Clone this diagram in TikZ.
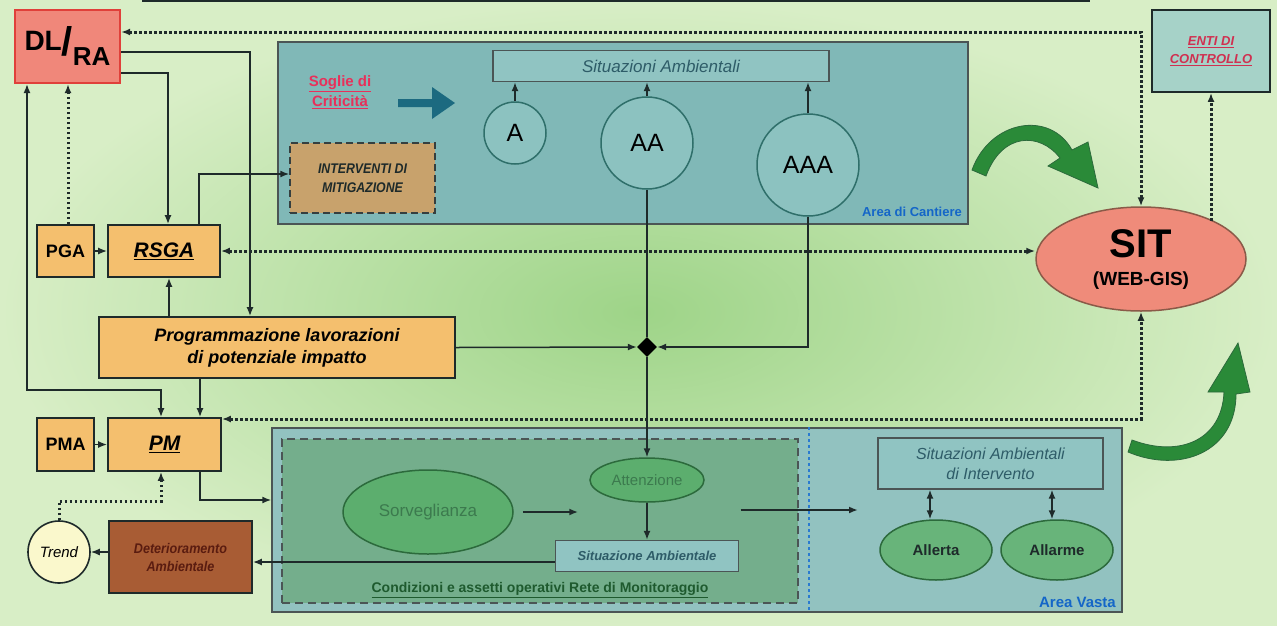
\documentclass[tikz,border=0pt]{standalone}
\usepackage{fontspec}
\setmainfont{Liberation Sans}
\usetikzlibrary{arrows.meta,shapes.geometric,calc}
\definecolor{bgin}{HTML}{9ED488}
\definecolor{bgout}{HTML}{D8EEC6}
\definecolor{redfill}{HTML}{F0877A}
\definecolor{redline}{HTML}{E0403A}
\definecolor{orangefill}{HTML}{F4BF6E}
\definecolor{tealfill}{HTML}{80B8B7}
\definecolor{tealbox}{HTML}{90C4C2}
\definecolor{circfill}{HTML}{8CC2C0}
\definecolor{circline}{HTML}{2F6F6A}
\definecolor{intfill}{HTML}{C8A26C}
\definecolor{entifill}{HTML}{A6D2C8}
\definecolor{detfill}{HTML}{A85C34}
\definecolor{dettext}{HTML}{5A1C10}
\definecolor{trendfill}{HTML}{FAF8CC}
\definecolor{lowfill}{HTML}{92C2C0}
\definecolor{innerfill}{HTML}{74AE8C}
\definecolor{ellfill}{HTML}{5CAE6E}
\definecolor{ellline}{HTML}{2C6A3C}
\definecolor{ellfill2}{HTML}{68B47A}
\definecolor{linec}{HTML}{1E2A2A}
\definecolor{arrgreen}{HTML}{2A8A38}
\definecolor{arrblue}{HTML}{1C6A80}
\definecolor{soglie}{HTML}{E8305A}
\definecolor{areablue}{HTML}{1466C8}
\definecolor{sitfill}{HTML}{EF8B7A}
\definecolor{sitline}{HTML}{8A5A48}
\definecolor{textgreen}{HTML}{3C7A4E}
\definecolor{condtext}{HTML}{1E5A2E}
\definecolor{sittext}{HTML}{2E5C68}
\definecolor{entitext}{HTML}{D03050}
\definecolor{sepblue}{HTML}{2A7AD0}
\newcommand{\fsz}[2]{\fontsize{#1}{#2}\selectfont}
\begin{document}
\begin{tikzpicture}[x=1pt,y=-1pt,
  >={Latex[length=9pt,width=7pt]},
  box/.style={draw=linec, line width=1.8pt, inner sep=0pt, align=center},
  obox/.style={box, fill=orangefill},
  conn/.style={draw=linec, line width=1.5pt},
  dotc/.style={draw=linec, line width=3pt, dash pattern=on 2.6pt off 2.4pt},
  circ/.style={circle, draw=circline, line width=1.5pt, fill=circfill, inner sep=0pt},
  gell/.style={ellipse, draw=ellline, line width=1.5pt, fill=ellfill, inner sep=0pt},
  garrow/.style={fill=arrgreen, draw=ellline, line width=0.8pt}
]
\useasboundingbox (0,0) rectangle (1277,625);
\shade[inner color=bgin, outer color=bgout] (0,0) rectangle (1277,625);
\draw[linec, line width=2pt] (142,1) -- (1090,1);

% ---------- containers ----------
\node[box, draw=linec!80, line width=1.5pt, fill=tealfill, minimum width=690, minimum height=182] (cantiere) at (623,133) {};
\node[box, draw=linec!80, line width=1.5pt, fill=lowfill, minimum width=850, minimum height=184] (lower) at (697,520) {};
\node[box, draw=linec!80, line width=1.3pt, dash pattern=on 8pt off 5pt, fill=innerfill, minimum width=516, minimum height=164] (inner) at (540,521) {};
\draw[sepblue, line width=1.5pt, dash pattern=on 3pt off 3pt] (lower.north -| 809,0) -- (lower.south -| 809,0);

% ---------- left column ----------
\node[box, fill=redfill, draw=redline, line width=2.2pt, minimum width=105, minimum height=73] (dlra) at (67.5,46.5)
  {\bfseries\fsz{28}{28}DL\raisebox{-5pt}{\fsz{40}{40}/}\raisebox{-15pt}{\fsz{26}{26}RA}};
\node[obox, minimum width=57, minimum height=52, font=\bfseries\fsz{18}{18}] (pga) at (65.5,251) {PGA};
\node[obox, minimum width=112, minimum height=52, font=\bfseries\itshape\fsz{21}{21}] (rsga) at (164,251) {\underline{RSGA}};
\node[obox, minimum width=356, minimum height=61, font=\bfseries\itshape\fsz{18}{22}] (prog) at (277,347.5)
  {Programmazione lavorazioni\\di potenziale impatto};
\node[obox, minimum width=57, minimum height=53, font=\bfseries\fsz{18}{18}] (pma) at (65.5,444.5) {PMA};
\node[obox, minimum width=113, minimum height=53, font=\bfseries\itshape\fsz{21}{21}] (pm) at (164.5,444.5) {\underline{PM}};
\node[circle, draw=linec, line width=1.6pt, fill=trendfill, minimum size=62, inner sep=0pt, font=\itshape\fsz{15}{15}] (trend) at (59,552) {Trend};
\node[box, fill=detfill, minimum width=143, minimum height=72, font=\bfseries\itshape\fsz{14}{18}, text=dettext] (deter) at (180.5,557)
  {\scalebox{0.9}[1]{Deterioramento}\\\scalebox{0.9}[1]{Ambientale}};

% ---------- Area di Cantiere ----------
\node[box, draw=linec!80, line width=1.4pt, fill=tealbox, minimum width=336, minimum height=31, font=\itshape\fsz{17}{17}, text=sittext] (sitamb) at (661,66)
  {Situazioni Ambientali};
\node[circ, minimum size=62, font=\fsz{25}{25}] (A) at (515,133) {A};
\node[circ, minimum size=92, font=\fsz{25}{25}] (AA) at (647,143) {AA};
\node[circ, minimum size=102, font=\fsz{25}{25}] (AAA) at (808,165) {AAA};
\node[align=center, text=soglie, inner sep=0pt, font=\bfseries\fsz{15}{20}] (soglie) at (340,92)
  {\underline{Soglie di}\\\underline{Criticità}};
\node[box, draw=linec!90, line width=1.5pt, dash pattern=on 7pt off 4pt, fill=intfill, minimum width=145, minimum height=70, font=\bfseries\itshape\fsz{14}{19}, text=linec] (interv) at (362.5,178)
  {\scalebox{0.88}[1]{INTERVENTI DI}\\\scalebox{0.88}[1]{MITIGAZIONE}};
\node[anchor=east, text=areablue, inner sep=0pt, font=\bfseries\fsz{13}{13}] (areacant) at (962,212) {Area di Cantiere};
\fill[arrblue] (398,99) -- (432,99) -- (432,87) -- (455,103) -- (432,119) -- (432,107) -- (398,107) -- cycle;

% ---------- right ----------
\node[box, fill=entifill, minimum width=118, minimum height=82, font=\bfseries\itshape\fsz{13}{18}, text=entitext] (enti) at (1211,51)
  {\underline{ENTI DI}\\\underline{CONTROLLO}};
\node[ellipse, draw=sitline, line width=1.5pt, fill=sitfill, minimum width=210, minimum height=104, inner sep=0pt, align=center, font=\bfseries\fsz{19}{19}] (sit) at (1141,259)
  {{\fsz{40}{40}SIT}\\[9pt](WEB-GIS)};

% green curved arrows
\fill[garrow] (972,170) .. controls (990,120) and (1050,110) .. (1072,150)
  -- (1088,142) -- (1098,188) -- (1048,166) -- (1060,158)
  .. controls (1040,132) and (1002,132) .. (986,176) -- cycle;
\fill[garrow] (1132,440) .. controls (1180,458) and (1222,440) .. (1224,392)
  -- (1208,392) -- (1238,343) -- (1250,392) -- (1236,394)
  .. controls (1236,452) and (1180,474) .. (1128,452) -- cycle;

% ---------- lower area ----------
\node[gell, minimum width=170, minimum height=84, font=\fsz{17}{17}, text=textgreen] (sorv) at (428,512) {Sorveglianza};
\node[gell, minimum width=114, minimum height=44, font=\fsz{15}{15}, text=textgreen] (att) at (647,480) {Attenzione};
\node[box, draw=linec!80, line width=1.4pt, fill=tealbox, minimum width=183, minimum height=31, font=\bfseries\itshape\fsz{13}{13}, text=sittext] (sitambL) at (647,556)
  {Situazione Ambientale};
\node[text=condtext, inner sep=0pt, font=\bfseries\fsz{14}{14}] (cond) at (540,590) {\underline{Condizioni e assetti operativi Rete di Monitoraggio}};
\node[box, draw=linec!80, line width=1.4pt, fill=tealbox, minimum width=225, minimum height=51, font=\itshape\fsz{16}{20}, text=sittext] (sitint) at (990.5,463.5)
  {Situazioni Ambientali\\di Intervento};
\node[gell, fill=ellfill2, minimum width=112, minimum height=60, font=\bfseries\fsz{15}{15}, text=linec] (allerta) at (936,550) {Allerta};
\node[gell, fill=ellfill2, minimum width=112, minimum height=60, font=\bfseries\fsz{15}{15}, text=linec] (allarme) at (1057,550) {Allarme};
\node[anchor=east, text=areablue, inner sep=0pt, font=\bfseries\fsz{15}{15}] (areavasta) at (1116,602) {Area Vasta};
\node[diamond, fill=black, minimum width=20, minimum height=20, inner sep=0pt] (dia) at (647,347) {};
\coordinate (vastaIn) at (858,510);

% ---------- connectors ----------
\draw[dotc,<->] (dlra.east |- 0,32) -| (sit.north);
\draw[dotc,<->] (rsga.east) -- (rsga.east -| sit.west);
\draw[dotc,<->] (pm.east |- 0,419) -| (sit.south);
\draw[dotc,->] (enti.south |- sit.28) -- (enti.south);
\draw[dotc,->] (pga.north -| 68,0) -- (dlra.south -| 68,0);

\draw[conn,->] (dlra.east |- 0,52) -| (prog.north -| 250,0);
\draw[conn,->] (dlra.east |- 0,73) -| (rsga.north -| 168,0);
\draw[conn,->] (rsga.north -| 199,0) |- (interv.west |- 0,174);
\draw[conn,->] (pga.east) -- (rsga.west);
\draw[conn,<->] (dlra.south -| 27,0) -- (27,390) -| (pm.north -| 161,0);
\draw[conn,->] (prog.north -| 169,0) -- (rsga.south -| 169,0);
\draw[conn,->] (prog.south -| 200,0) -- (pm.north -| 200,0);
\draw[conn,->] (pma.east) -- (pm.west);
\draw[conn,->] (pm.south -| 200,0) |- (lower.west |- 0,500);
\draw[dotc,->] (trend.north) -- (trend.north |- 0,501) -| (pm.south -| 161,0);
\draw[conn,->] (deter.west |- trend.east) -- (trend.east);
\draw[conn,->] (sitambL.west |- 0,562) -- (deter.east |- 0,562);

\draw[conn,->] (A.north) -- (sitamb.south -| A.north);
\draw[conn,->] (AA.north) -- (sitamb.south -| AA.north);
\draw[conn,->] (AAA.north) -- (sitamb.south -| AAA.north);
\draw[conn] (AA.south) -- (dia.north);
\draw[conn,->] (dia.south) -- (att.north);
\draw[conn,->] (prog.east) -- (dia.west);
\draw[conn,->] (AAA.south) |- (dia.east);

\draw[conn,line width=2pt,->] ([xshift=9pt]sorv.east) -- ([xshift=-11pt]sorv.east -| att.west);
\draw[conn,->] (att.south) -- (sitambL.north);
\draw[conn,line width=2pt,->] (inner.east |- 0,510) ++(-58,0) -- (vastaIn);
\draw[conn,<->] (sitint.south -| allerta.north) ++(-6,0) -- ([xshift=-6pt]allerta.north);
\draw[conn,<->] (sitint.south -| allarme.north) ++(-5,0) -- ([xshift=-5pt]allarme.north);
\end{tikzpicture}
\end{document}
